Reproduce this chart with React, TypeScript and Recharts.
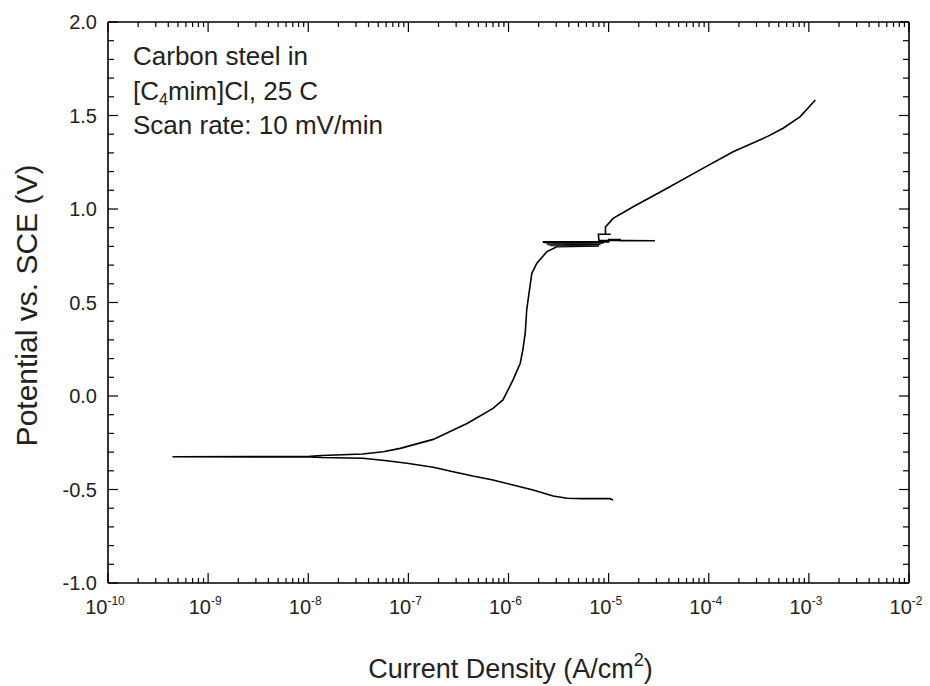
import React from 'react';
import { LineChart, Line, XAxis, YAxis, Customized } from 'recharts';

const FONT = '"Liberation Sans", Arial, Helvetica, sans-serif';

// Cathodic branch (scan starts here, potential rising toward Ecorr)
const cathodicCurrent = [1.11e-5, 1.03e-5, 5.56e-6, 3.85e-6, 2.79e-6, 1.76e-6, 1.11e-6, 7.0e-7, 4.4e-7, 2.8e-7, 1.77e-7, 9.7e-8, 6.1e-8, 3.5e-8, 1.37e-8, 1.04e-8];
const cathodicPotential = [-0.556, -0.549, -0.549, -0.547, -0.535, -0.503, -0.476, -0.449, -0.428, -0.405, -0.381, -0.36, -0.346, -0.333, -0.329, -0.326];

// Current minimum at the corrosion potential
const ecorrCurrent = [4.4e-10];
const ecorrPotential = [-0.325];

// Anodic branch up to the pitting region
const anodicCurrent = [1.04e-8, 1.37e-8, 3.5e-8, 5.6e-8, 8.3e-8, 1.77e-7, 3.9e-7, 7.0e-7, 8.8e-7, 1.11e-6, 1.31e-6, 1.39e-6, 1.47e-6, 1.52e-6, 1.62e-6, 1.71e-6, 1.92e-6, 2.42e-6, 3.04e-6];
const anodicPotential = [-0.322, -0.318, -0.31, -0.298, -0.28, -0.232, -0.146, -0.066, -0.021, 0.086, 0.175, 0.246, 0.337, 0.46, 0.567, 0.656, 0.71, 0.772, 0.798];

// Oscillating region near 0.8 V
const pittingCurrent = [8.0e-6, 2.6e-6, 7.6e-6, 2.5e-6, 8.3e-6, 2.4e-6, 7.9e-6, 2.5e-6, 8.9e-6, 2.3e-6, 2.2e-6, 1.0e-5, 1.0e-5, 1.3e-5, 1.3e-5, 2.9e-5, 8.0e-6, 7.9e-6, 1.05e-5, 9.3e-6, 9.3e-6];
const pittingPotential = [0.803, 0.805, 0.807, 0.809, 0.811, 0.813, 0.815, 0.817, 0.819, 0.821, 0.824, 0.824, 0.836, 0.836, 0.83, 0.83, 0.833, 0.865, 0.865, 0.866, 0.905];

// Transpassive branch
const transCurrent = [9.66e-6, 1.11e-5, 1.76e-5, 3.84e-5, 8.2e-5, 1.75e-4, 3.83e-4, 5.53e-4, 8.2e-4, 1.16e-3];
const transPotential = [0.914, 0.95, 1.012, 1.111, 1.209, 1.306, 1.387, 1.432, 1.494, 1.583];

// Axis ticks
const xTickExponents = [-10, -9, -8, -7, -6, -5, -4, -3, -2];
const xMinorMultipliers = [2, 3, 4, 5, 6, 7, 8, 9];
const yTickValues = [-1.0, -0.5, 0.0, 0.5, 1.0, 1.5, 2.0];
const yTickLabels = ['-1.0', '-0.5', '0.0', '0.5', '1.0', '1.5', '2.0'];
const yMinorStep = 0.1;

const annotationLines = ['Carbon steel in', 'Scan rate: 10 mV/min'];

const segments: [number[], number[]][] = [
  [cathodicCurrent, cathodicPotential],
  [ecorrCurrent, ecorrPotential],
  [anodicCurrent, anodicPotential],
  [pittingCurrent, pittingPotential],
  [transCurrent, transPotential],
];

const data: { x: number; e: number }[] = [];
segments.forEach(([cur, pot]) => {
  cur.forEach((c, i) => data.push({ x: Math.log10(c), e: pot[i] }));
});

const xTicks: number[] = [];
xTickExponents.forEach((n, idx) => {
  xTicks.push(n);
  if (idx < xTickExponents.length - 1) {
    xMinorMultipliers.forEach((m) => xTicks.push(n + Math.log10(m)));
  }
});

const yTicks: number[] = [];
for (let k = 0; k <= 30; k++) yTicks.push(Math.round((-1 + k * yMinorStep) * 10) / 10);

const isXMajor = (v: number) => Math.abs(v - Math.round(v)) < 1e-9;
const isYMajor = (v: number) => Math.abs(v * 2 - Math.round(v * 2)) < 1e-6;

const makeXTick = (side: 'bottom' | 'top') => (props: any) => {
  const { x, y, payload } = props;
  const v = payload.value as number;
  const major = isXMajor(v);
  const len = major ? 10 : 5;
  const dir = side === 'bottom' ? -1 : 1;
  return (
    <g>
      <line x1={x} y1={y} x2={x} y2={y + dir * len} stroke="#000" strokeWidth={1.2} />
      {side === 'bottom' && major && (
        <text x={x - 3} y={y + 31} textAnchor="middle" fontFamily={FONT} fontSize={20} fill="#222">
          10
          <tspan fontSize={12} dy={-9}>
            {String(Math.round(v))}
          </tspan>
        </text>
      )}
    </g>
  );
};

const makeYTick = (side: 'left' | 'right') => (props: any) => {
  const { x, y, payload } = props;
  const v = payload.value as number;
  const major = isYMajor(v);
  const len = major ? 10 : 6;
  const dir = side === 'left' ? 1 : -1;
  const idx = yTickValues.findIndex((t) => Math.abs(t - v) < 1e-6);
  return (
    <g>
      <line x1={x} y1={y} x2={x + dir * len} y2={y} stroke="#000" strokeWidth={1.2} />
      {side === 'left' && major && idx >= 0 && (
        <text x={x - 11} y={y + 7} textAnchor="end" fontFamily={FONT} fontSize={20} fill="#222">
          {yTickLabels[idx]}
        </text>
      )}
    </g>
  );
};

const XLabel = (props: any) => {
  const vb = props.viewBox || {};
  const cx = vb.x + vb.width / 2 + 2;
  return (
    <text x={cx} y={vb.y + 95} textAnchor="middle" fontFamily={FONT} fontSize={27} fill="#222">
      Current Density (A/cm
      <tspan fontSize={18} dy={-12}>2</tspan>
      <tspan dy={12}>)</tspan>
    </text>
  );
};

const YLabel = (props: any) => {
  const vb = props.viewBox || {};
  const cx = vb.x - 22;
  const cy = vb.y + vb.height / 2 + 3;
  return (
    <text
      x={cx}
      y={cy}
      transform={`rotate(-90, ${cx}, ${cy})`}
      textAnchor="middle"
      dominantBaseline="central"
      fontFamily={FONT}
      fontSize={30}
      fill="#222"
    >
      Potential vs. SCE (V)
    </text>
  );
};

const Annotation = (props: any) => {
  const ox = (props.offset && props.offset.left) || 100;
  const oy = (props.offset && props.offset.top) || 14;
  const x = ox + 25;
  return (
    <g fontFamily={FONT} fontSize={26} fill="#222">
      <text x={x} y={oy + 43}>{annotationLines[0]}</text>
      <text x={x} y={oy + 78}>
        [C<tspan fontSize={16} dy={5}>4</tspan>
        <tspan dy={-5}>mim]Cl, 25 C</tspan>
      </text>
      <text x={x} y={oy + 112}>{annotationLines[1]}</text>
    </g>
  );
};

export default function App() {
  return (
    <div style={{ width: 922, height: 678, background: '#fff' }}>
      <LineChart
        width={922}
        height={678}
        data={data}
        margin={{ top: 10, right: 11, bottom: 13, left: 40 }}
        style={{ overflow: 'visible' }}
      >
        <XAxis
          xAxisId="bottom"
          dataKey="x"
          type="number"
          domain={[-10, -2]}
          ticks={xTicks}
          interval={0}
          tickSize={0}
          tickMargin={0}
          tickLine={false}
          tick={makeXTick('bottom')}
          axisLine={{ stroke: '#000', strokeWidth: 1.6 }}
          height={90}
          allowDataOverflow
          label={<XLabel />}
        />
        <XAxis
          xAxisId="top"
          orientation="top"
          dataKey="x"
          type="number"
          domain={[-10, -2]}
          ticks={xTicks}
          interval={0}
          tickSize={0}
          tickMargin={0}
          tickLine={false}
          tick={makeXTick('top')}
          axisLine={{ stroke: '#000', strokeWidth: 1.6 }}
          height={4}
          allowDataOverflow
        />
        <YAxis
          yAxisId="left"
          type="number"
          domain={[-1, 2]}
          ticks={yTicks}
          interval={0}
          tickSize={0}
          tickMargin={0}
          tickLine={false}
          tick={makeYTick('left')}
          axisLine={{ stroke: '#000', strokeWidth: 1.6 }}
          width={60}
          allowDataOverflow
          label={<YLabel />}
        />
        <YAxis
          yAxisId="right"
          orientation="right"
          type="number"
          domain={[-1, 2]}
          ticks={yTicks}
          interval={0}
          tickSize={0}
          tickMargin={0}
          tickLine={false}
          tick={makeYTick('right')}
          axisLine={{ stroke: '#000', strokeWidth: 1.6 }}
          width={10}
          allowDataOverflow
        />
        <Line
          xAxisId="bottom"
          yAxisId="left"
          type="linear"
          dataKey="e"
          stroke="#000"
          strokeWidth={1.6}
          dot={false}
          isAnimationActive={false}
        />
        <Customized component={Annotation} />
      </LineChart>
    </div>
  );
}
